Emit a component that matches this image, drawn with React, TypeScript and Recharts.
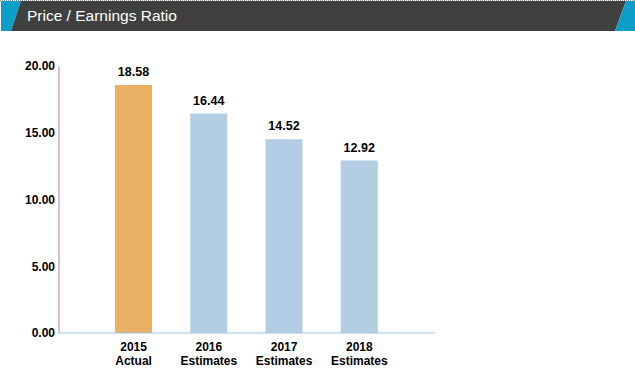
import { Bar, BarChart, Cell, LabelList, XAxis, YAxis } from "recharts";

const years = ["2015", "2016", "2017", "2018"];
const kinds = ["Actual", "Estimates", "Estimates", "Estimates"];
const peRatio = [18.58, 16.44, 14.52, 12.92];
const yTicks = [0, 5, 10, 15, 20];

const barColors = ["#EAB165", "#B2CDE4", "#B2CDE4", "#B2CDE4"];

const data = years.map((y, i) => ({ year: y, kind: kinds[i], value: peRatio[i] }));

const FONT = "'Liberation Sans', Arial, sans-serif";

const YearTick = (props: any) => {
  const { x, y, payload, index } = props;
  return (
    <text x={x} y={y} textAnchor="middle" fontFamily={FONT} fontSize={12} fontWeight="bold" fill="#000">
      <tspan x={x} dy={10}>{payload.value}</tspan>
      <tspan x={x} dy={14}>{kinds[index]}</tspan>
    </text>
  );
};

const Header = () => (
  <svg width={635} height={32} style={{ position: "absolute", left: 0, top: 0 }}>
    <line x1={0} y1={0.5} x2={635} y2={0.5} stroke="#999" strokeDasharray="1 1" />
    <polygon points="1,1 21,1 11,31 1,31" fill="#0A9EC8" />
    <polygon points="21,1 626,1 615,31 11,31" fill="#404040" />
    <polygon points="626,1 635,1 635,31 615,31" fill="#0A9EC8" />
    <text x={27} y={21} fill="#fff" fontFamily={FONT} fontSize={15.5}>
      Price / Earnings Ratio
    </text>
  </svg>
);

export default function App() {
  return (
    <div style={{ position: "fixed", left: 0, top: 0, width: 635, height: 372, background: "#fff" }}>
      <Header />
      <BarChart
        width={635}
        height={372}
        data={data}
        margin={{ top: 66, right: 200, bottom: 0, left: 0 }}
        barSize={37}
      >
        <XAxis
          dataKey="year"
          axisLine={{ stroke: "#9FC5E3" }}
          tickLine={false}
          height={39}
          padding={{ left: 37, right: 38 }}
          tick={<YearTick />}
          interval={0}
        />
        <YAxis
          width={59}
          domain={[0, 20]}
          ticks={yTicks}
          axisLine={{ stroke: "#C07BA0" }}
          tickLine={false}
          tickSize={0}
          tickMargin={4}
          tickFormatter={(v: number) => v.toFixed(2)}
          tick={{ fontFamily: FONT, fontSize: 12, fontWeight: "bold", fill: "#000" }}
        />
        <Bar dataKey="value" isAnimationActive={false}>
          {data.map((_, i) => (
            <Cell key={`c-${i}`} fill={barColors[i]} />
          ))}
          <LabelList
            dataKey="value"
            position="top"
            offset={9}
            formatter={(v: any) => Number(v).toFixed(2)}
            style={{ fontFamily: FONT, fontSize: 12.5, fontWeight: "bold", fill: "#000" }}
          />
        </Bar>
      </BarChart>
    </div>
  );
}
